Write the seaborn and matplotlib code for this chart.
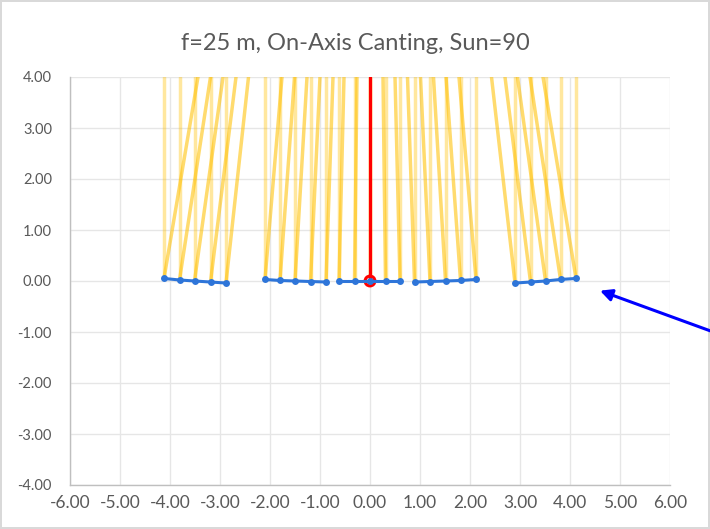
import numpy as np
import pandas as pd
import matplotlib
matplotlib.use("Agg")
import matplotlib.pyplot as plt
from matplotlib.ticker import FuncFormatter, MultipleLocator
import seaborn as sns

# ---- data ----
title = "f=25 m, On-Axis Canting, Sun=90"
mirror_group = [1]*5 + [2]*5 + [3]*5 + [4]*5 + [5]*5
mirror_x = [-4.12, -3.81, -3.51, -3.19, -2.88,
            -2.10, -1.80, -1.50, -1.19, -0.88,
            -0.62, -0.31, 0.00, 0.31, 0.60,
            0.89, 1.20, 1.51, 1.81, 2.12,
            2.90, 3.21, 3.51, 3.81, 4.12]
mirror_y = [0.05, 0.02, 0.00, -0.02, -0.04,
            0.03, 0.01, 0.00, -0.01, -0.02,
            0.00, 0.00, 0.00, 0.00, 0.00,
            -0.02, -0.01, 0.00, 0.01, 0.03,
            -0.04, -0.02, 0.00, 0.03, 0.05]
# x where each reflected ray leaves the top of the plot (y = 4)
reflect_top_x = [-3.44, -3.19, -2.94, -2.68, -2.43,
                 -1.76, -1.51, -1.26, -1.00, -0.74,
                 -0.52, -0.26, 0.00, 0.26, 0.50,
                 0.75, 1.01, 1.27, 1.52, 1.78,
                 2.43, 2.70, 2.95, 3.20, 3.46]
ray_top_y = 4.0
receiver_x = [0.0, 0.0]
receiver_y = [0.0, 4.0]
focus_x = [0.0]
focus_y = [0.0]
arrow_tip = (4.6, -0.19)
arrow_tail = (7.4, -1.19)
x_ticks = [-6, -5, -4, -3, -2, -1, 0, 1, 2, 3, 4, 5, 6]
y_ticks = [-4, -3, -2, -1, 0, 1, 2, 3, 4]

# ---- tables ----
df_m = pd.DataFrame({"x": mirror_x, "y": mirror_y, "group": mirror_group})
inc_rows, ref_rows = [], []
for i, (mx, my, tx) in enumerate(zip(mirror_x, mirror_y, reflect_top_x)):
    inc_rows += [(i, mx, my), (i, mx, ray_top_y)]
    ref_rows += [(i, mx, my), (i, tx, ray_top_y)]
df_inc = pd.DataFrame(inc_rows, columns=["ray", "x", "y"])
df_ref = pd.DataFrame(ref_rows, columns=["ray", "x", "y"])
df_rec = pd.DataFrame({"x": receiver_x, "y": receiver_y})
df_foc = pd.DataFrame({"x": focus_x, "y": focus_y})

sns.set_style("white")
plt.rcParams["font.family"] = ["Lato", "DejaVu Sans"]

fig = plt.figure(figsize=(7.10, 5.29), dpi=100)
fig.patch.set_facecolor("white")
fig.patch.set_edgecolor("#D9D9D9")
fig.patch.set_linewidth(1.5)
ax = fig.add_axes([70/710, 1-485/529, 600/710, 408/529])

yellow = "#FFC000"
blue = "#2E75D9"

sns.lineplot(data=df_inc, x="x", y="y", units="ray", estimator=None, sort=False,
             color=yellow, alpha=0.38, lw=2.5, ax=ax, zorder=2, legend=False)
sns.lineplot(data=df_ref, x="x", y="y", units="ray", estimator=None, sort=False,
             color=yellow, alpha=0.57, lw=2.5, ax=ax, zorder=2, legend=False)
sns.lineplot(data=df_rec, x="x", y="y", estimator=None, sort=False,
             color="#FF0000", lw=2.3, ax=ax, zorder=3, legend=False)
sns.scatterplot(data=df_foc, x="x", y="y", s=50, facecolor="none",
                edgecolor="#FF0000", linewidth=2.2, ax=ax, zorder=4, legend=False)
sns.lineplot(data=df_m, x="x", y="y", units="group", estimator=None, sort=False,
             color=blue, lw=2.2, marker="o", markersize=5, markeredgewidth=0,
             ax=ax, zorder=5, legend=False)

ax.annotate("", xy=arrow_tip, xytext=arrow_tail, xycoords="data",
            arrowprops=dict(arrowstyle="-|>,head_length=0.7,head_width=0.35",
                            color="#0000FF", lw=2.2, shrinkA=0, shrinkB=0),
            annotation_clip=False, zorder=6)

ax.set_xlim(-6, 6)
ax.set_ylim(-4, 4)
ax.set_xticks(x_ticks)
ax.set_yticks(y_ticks)
fmt = FuncFormatter(lambda v, p: f"{v:.2f}".replace("\u2212", "-"))
ax.xaxis.set_major_formatter(fmt)
ax.yaxis.set_major_formatter(fmt)
ax.grid(True, color="#E6E6E6", lw=1.0, zorder=0)
ax.set_axisbelow(True)
for s in ["top", "right"]:
    ax.spines[s].set_visible(False)
for s in ["left", "bottom"]:
    ax.spines[s].set_color("#BFBFBF")
    ax.spines[s].set_linewidth(1.0)
ax.tick_params(axis="x", length=0, pad=7, labelsize=12.5, labelcolor="#595959")
ax.tick_params(axis="y", length=0, pad=13, labelsize=10.5, labelcolor="#595959")
ax.set_xlabel("")
ax.set_ylabel("")

fig.text(0.5, 1-43/529, title, ha="center", va="center", fontsize=17, color="#595959")

fig.savefig("out.png", dpi=100)
